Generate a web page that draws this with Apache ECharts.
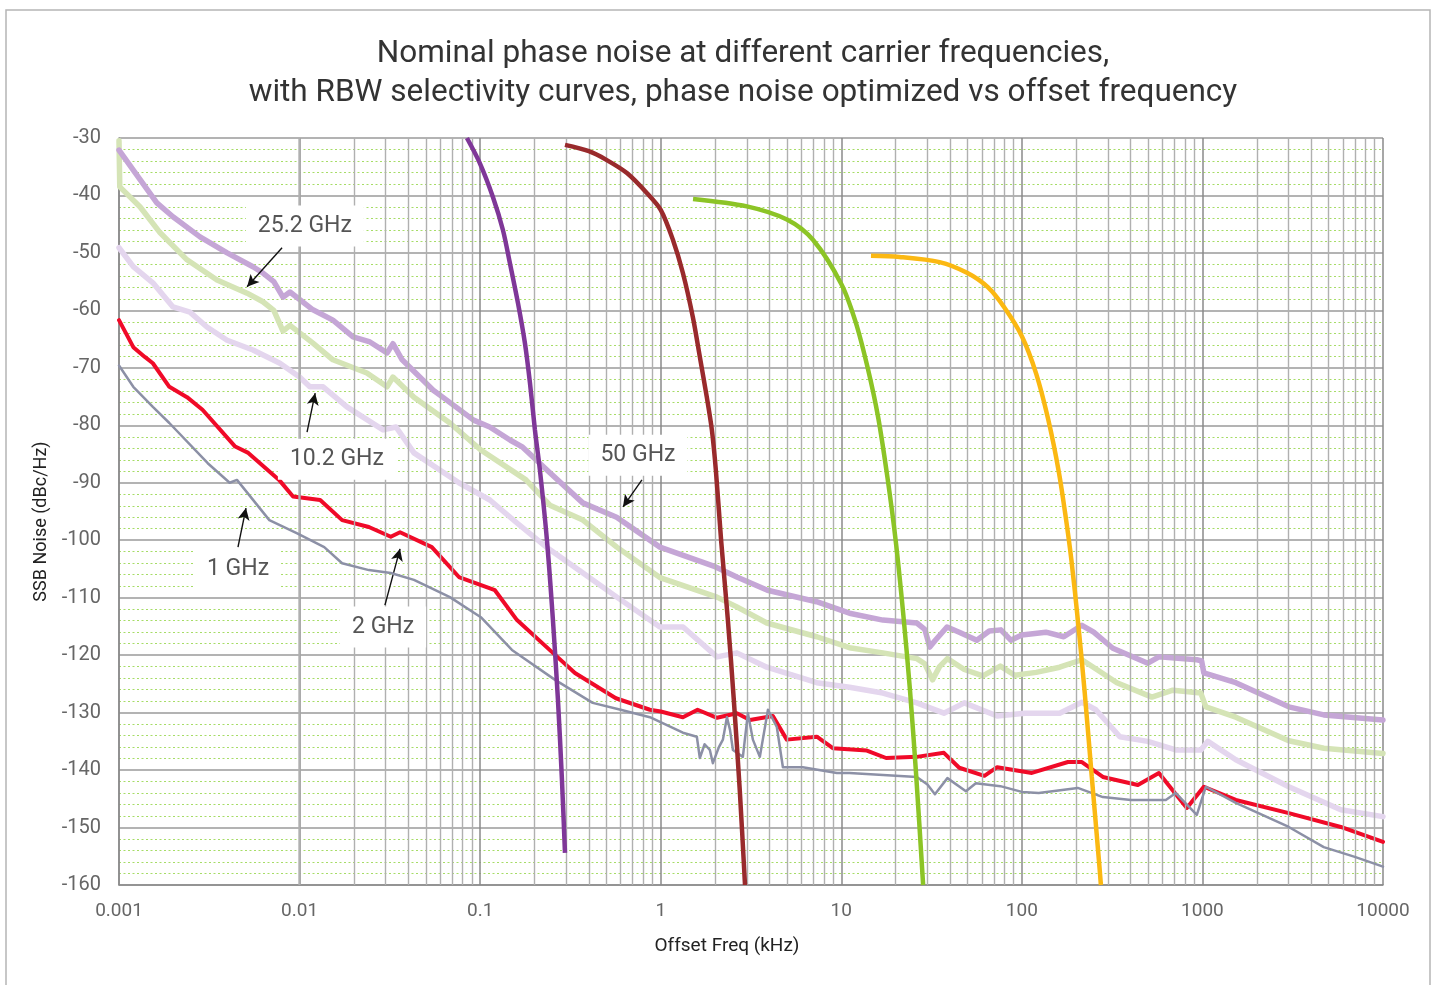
<!DOCTYPE html>
<html>
<head>
<meta charset="utf-8">
<script src="https://cdn.jsdelivr.net/npm/echarts@6/dist/echarts.min.js"></script>
<style>
html,body{margin:0;padding:0;background:#fff;}
#c{width:1435px;height:985px;}
</style>
</head>
<body>
<div id="c"></div>
<script>
// ---------- tick labels / grid values ----------
const decadeLabels = ['0.001','0.01','0.1','1','10','100','1000','10000'];
const gridDecades = [0.001,0.01,0.1,1,10,100,1000];
const gridMultipliers = [2,3,4,5,6,7,8,9];

// ---------- phase-noise traces: [offset kHz, dBc/Hz] ----------
const noise50GHz = [[0.001,-32.1],[0.0012,-35.6],[0.00162,-41.3],[0.00199,-43.7],[0.00281,-47.2],[0.00397,-50.0],[0.00552,-52.4],[0.00627,-53.5],[0.0072,-55],[0.00809,-57.7],[0.00885,-56.8],[0.01186,-59.9],[0.0153,-61.7],[0.01977,-64.6],[0.02453,-65.5],[0.0305,-67.4],[0.0329,-65.8],[0.037,-68.6],[0.055,-73.9],[0.062,-75.1],[0.092,-79.1],[0.113,-80.3],[0.147,-82.6],[0.172,-83.8],[0.24,-88.1],[0.37,-93.5],[0.57,-96.0],[0.99,-101.2],[2.0,-104.6],[2.64,-106.4],[3.9,-108.7],[7.3,-110.7],[11.1,-112.7],[17,-113.9],[26.2,-114.4],[29,-115.5],[30.9,-118.6],[33,-117.5],[38.5,-115.1],[45,-116],[56.3,-117.4],[66,-115.8],[76.5,-115.6],[86.9,-117.4],[100,-116.5],[135.8,-116.0],[170.7,-116.8],[214.9,-114.8],[250,-116],[319,-118.8],[498.5,-121.4],[574,-120.3],[931,-120.8],[990,-121],[1018,-123.1],[1531,-124.8],[3008,-129.0],[4699,-130.4],[10000,-131.3]];
const noise25GHz = [[0.001,-30.5],[0.00101,-38.5],[0.00131,-42.0],[0.00169,-46.5],[0.00238,-51.2],[0.00349,-54.7],[0.00512,-57.0],[0.00627,-58.5],[0.0072,-60],[0.00809,-63.6],[0.00885,-62.6],[0.01186,-65.7],[0.0153,-68.6],[0.0236,-70.9],[0.0305,-73.3],[0.0329,-71.6],[0.043,-75.1],[0.068,-79.6],[0.1009,-84.3],[0.1794,-89.5],[0.2433,-93.9],[0.3707,-96.5],[0.5715,-101.2],[0.99,-106.5],[2.05,-109.9],[2.64,-111.6],[3.87,-114.4],[7.32,-116.8],[11.1,-118.7],[17,-119.6],[26.2,-120.6],[29,-121.5],[32,-124.3],[35,-122],[38.7,-120.6],[48,-122.5],[60.8,-123.6],[76,-121.9],[91.4,-123.5],[120,-123],[162,-122.1],[215,-120.8],[260,-122.5],[336,-124.8],[525,-127.3],[686,-126.1],[980,-126.6],[1045,-129.0],[1531,-130.8],[3008,-134.9],[4699,-136.2],[10000,-137.1]];
const noise10GHz = [[0.001,-49.1],[0.0012,-52.4],[0.00154,-55.2],[0.00199,-59.4],[0.00247,-60.3],[0.00307,-62.9],[0.00397,-65.2],[0.00552,-66.9],[0.00778,-69.2],[0.01,-71.6],[0.0114,-73.3],[0.0135,-73.3],[0.0183,-76.8],[0.029,-80.8],[0.0342,-80.3],[0.043,-84.8],[0.0763,-90.0],[0.1132,-93.0],[0.16,-97.0],[0.2373,-101.4],[0.371,-105.7],[0.5715,-109.9],[0.99,-115.1],[1.33,-115.1],[2.05,-120.3],[2.64,-119.6],[3.87,-122.1],[7.32,-124.8],[11.1,-125.6],[17,-126.6],[26.2,-128.3],[37,-130.1],[48,-128.3],[73,-130.6],[104,-130.1],[162,-130.1],[215,-128.2],[257,-129.5],[349,-134.2],[498,-135.0],[712,-136.5],[980,-136.5],[1072,-135.0],[1531,-138.2],[3008,-142.9],[5838,-146.9],[10000,-148.1]];
const noise2GHz = [[0.001,-61.7],[0.0012,-66.4],[0.00139,-68.1],[0.00154,-69.2],[0.0019,-73.3],[0.00238,-75.1],[0.0029,-77.3],[0.0044,-83.7],[0.0052,-84.8],[0.0077,-89.5],[0.0092,-92.4],[0.013,-93.0],[0.0172,-96.5],[0.0242,-97.7],[0.032,-99.4],[0.036,-98.6],[0.054,-101.2],[0.0763,-106.4],[0.1207,-108.7],[0.16,-113.9],[0.2529,-119.6],[0.335,-123.1],[0.5646,-127.5],[0.871,-129.5],[1.0,-129.8],[1.327,-130.8],[1.6,-129.5],[2.05,-130.9],[2.64,-130.1],[3.12,-131.3],[4.18,-130.6],[4.99,-134.7],[7.32,-134.2],[8.98,-136.2],[13.86,-136.6],[17.7,-137.9],[26.2,-137.7],[37,-137.0],[45,-139.6],[62,-141.0],[73,-139.5],[113.6,-140.5],[180,-138.6],[215,-138.6],[281,-141.2],[439,-142.6],[574,-140.5],[820,-146.6],[1018,-142.9],[1531,-145.2],[3008,-147.5],[5838,-149.9],[10000,-152.5]];
const noise1GHz = [[0.001,-69.6],[0.0012,-73.3],[0.00154,-76.8],[0.0019,-79.6],[0.0031,-86.6],[0.0041,-90.0],[0.0045,-89.5],[0.0068,-96.5],[0.0097,-98.8],[0.0137,-101.2],[0.0172,-104.0],[0.0242,-105.2],[0.032,-105.7],[0.043,-106.9],[0.068,-109.9],[0.1009,-113.4],[0.15,-119.1],[0.26,-124.3],[0.42,-128.3],[0.6,-129.5],[0.871,-130.8],[1.327,-133.5],[1.585,-134.2],[1.647,-137.9],[1.75,-135.5],[1.871,-136.5],[1.945,-138.8],[2.1,-136],[2.21,-134.7],[2.327,-130.8],[2.42,-133],[2.512,-136.5],[2.851,-137.7],[3.04,-130.1],[3.239,-134.7],[3.54,-137.7],[3.925,-129.5],[4.395,-132.5],[4.75,-139.5],[6.12,-139.5],[9.45,-140.5],[11.1,-140.5],[26.2,-141.2],[30,-142.5],[33,-144.2],[38.7,-141.4],[49,-143.7],[55.6,-142.3],[76,-142.8],[100,-143.8],[124,-144.0],[204,-143.1],[281,-144.7],[402,-145.2],[627,-145.2],[712,-144.0],[931,-147.8],[1045,-142.9],[1531,-145.7],[3008,-149.9],[4699,-153.4],[6982,-155.1],[10000,-156.8]];

// ---------- RBW selectivity curves ----------
const rbwPurple = [[0.0845,-30],[0.0997,-34.4],[0.1178,-40.3],[0.1337,-46],[0.1462,-51.8],[0.1619,-58.7],[0.177,-65.7],[0.1887,-72.6],[0.2011,-80.8],[0.2143,-87.8],[0.2344,-100],[0.253,-113.9],[0.2697,-127.8],[0.2838,-141.7],[0.295,-154.4]];
const rbwDarkRed = [[0.295,-31.2],[0.4,-32.3],[0.5,-33.8],[0.65,-36.1],[0.84,-39.6],[1.0,-42.5],[1.168,-47.7],[1.327,-53.5],[1.507,-61.2],[1.647,-68.1],[1.8,-75.1],[1.92,-80.8],[2.02,-87.8],[2.16,-100],[2.355,-113.9],[2.54,-127.8],[2.74,-143.5],[2.93,-160]];
const rbwGreen = [[1.51,-40.6],[3,-41.9],[5,-44.2],[7,-47.8],[10,-55.4],[12,-62],[14,-70],[16,-78.6],[18,-89],[20,-100],[22,-112.6],[24,-126],[26,-141],[28.4,-160]];
const rbwOrange = [[14.6,-50.5],[21,-50.7],[35,-51.6],[50,-53.5],[65,-56],[80,-59.5],[100,-64.5],[120,-71],[140,-79],[160,-88],[175,-96],[188,-103.4],[205,-114.4],[223,-126.6],[244,-141.2],[267,-155.6],[274,-160]];

// ---------- annotations ----------
const annoText = ['25.2 GHz','10.2 GHz','50 GHz','1 GHz','2 GHz'];
const annoAt = [[0.0107,-45.3],[0.0161,-85.9],[0.748,-85.2],[0.00456,-105],[0.029,-115.1]];
const arrowFrom = [[0.008,-49.1],[0.011,-81.2],[0.787,-89.5],[0.00456,-101.2],[0.0297,-111.3]];
const arrowTo = [[0.00512,-55.9],[0.0122,-74.4],[0.618,-94.2],[0.00505,-94.4],[0.036,-101.5]];

const FONT = 'Roboto, "Noto Sans", sans-serif';

const minorGrid = [];
gridDecades.forEach(d => gridMultipliers.forEach(m => minorGrid.push({xAxis: +(m*d).toPrecision(3)})));

function trace(name, data, color, width, z){
  return {name, type:'line', data, showSymbol:false, symbol:'none', z: z,
    lineStyle:{color, width, join:'round', cap:'round'}, emphasis:{disabled:true}, silent:true, animation:false};
}
function rbw(name, data, color){
  return {name, type:'line', data, showSymbol:false, symbol:'none', smooth:0.3, z:6,
    lineStyle:{color, width:4.5, cap:'butt'}, emphasis:{disabled:true}, silent:true, animation:false};
}

const chart = echarts.init(document.getElementById('c'), null, {renderer:'canvas'});
const option = {
  animation:false,
  backgroundColor:'#fff',
  title:{
    text:'Nominal phase noise at different carrier frequencies,\nwith RBW selectivity curves, phase noise optimized vs offset frequency',
    left:738, top:30, textAlign:'center',
    textStyle:{fontFamily:FONT, fontSize:31.5, fontWeight:'normal', color:'#333', lineHeight:39}
  },
  graphic:[{type:'rect', shape:{x:6,y:10,width:1424,height:1000}, style:{fill:'none', stroke:'#b5b5b5', lineWidth:1.5}, silent:true, z:-10}],
  grid:{left:119, right:52, top:138, bottom:100, containLabel:false},
  xAxis:{
    type:'log', logBase:10, min:0.001, max:10000,
    name:'Offset Freq (kHz)', nameLocation:'middle', nameGap:52,
    nameTextStyle:{fontFamily:FONT, fontSize:19, color:'#222', padding:[0,48,0,0]},
    axisLine:{show:true, lineStyle:{color:'#8a8a8a', width:1.5}},
    axisTick:{show:false},
    axisLabel:{margin:17, fontFamily:FONT, fontSize:19, color:'#666',
      formatter:v => decadeLabels[Math.round(Math.log10(v))+3]},
    splitLine:{show:true, lineStyle:{color:'#8a8a8a', width:1.5}},
    minorTick:{show:false}, minorSplitLine:{show:false}
  },
  yAxis:{
    type:'value', min:-160, max:-30, interval:10,
    name:'SSB Noise (dBc/Hz)', nameLocation:'middle', nameGap:64,
    nameTextStyle:{fontFamily:FONT, fontSize:18, color:'#222', padding:[0,20,0,0]},
    axisLine:{show:true, lineStyle:{color:'#8a8a8a', width:1.5}},
    axisTick:{show:false},
    axisLabel:{margin:18, fontFamily:FONT, fontSize:20, color:'#666'},
    splitLine:{show:true, lineStyle:{color:'#9a9a9a', width:1.5}},
    minorTick:{show:false, splitNumber:5},
    minorSplitLine:{show:true, lineStyle:{color:'#a6dc66', width:1, type:[2,2.5]}}
  },
  series:[
    {name:'grid', type:'line', data:[], z:1, silent:true,
      markLine:{silent:true, symbol:['none','none'], label:{show:false}, animation:false,
        lineStyle:{color:'#b0b0b0', width:1.4, type:'solid'}, emphasis:{disabled:true},
        data:minorGrid}},
    trace('10.2 GHz', noise10GHz, '#e4d6ee', 5.5, 3),
    trace('25.2 GHz', noise25GHz, '#d5e4b6', 5.5, 3),
    trace('50 GHz', noise50GHz, '#c5a6d6', 5.5, 3),
    trace('2 GHz', noise2GHz, '#f00a28', 4, 4),
    trace('1 GHz', noise1GHz, '#8c90a6', 2.5, 5),
    rbw('RBW 1', rbwPurple, '#7f3798'),
    rbw('RBW 2', rbwDarkRed, '#992a2c'),
    rbw('RBW 3', rbwGreen, '#8cc426'),
    rbw('RBW 4', rbwOrange, '#fbb812'),
    {name:'annotations', type:'line', data:[], z:10, silent:true,
      markLine:{silent:true, symbol:['none','arrow'], symbolSize:[9,12], animation:false,
        label:{show:false}, lineStyle:{color:'#111', width:1.4, type:'solid'}, emphasis:{disabled:true},
        data: arrowFrom.map((p,i)=>[{coord:p},{coord:arrowTo[i]}])},
      markPoint:{silent:true, symbol:'rect', symbolSize:1, animation:false,
        itemStyle:{color:'rgba(0,0,0,0)'},
        label:{show:true, position:'inside', fontFamily:FONT, fontSize:23, color:'#555',
          backgroundColor:'#fff', padding:[9,12], formatter:p=>p.name},
        data: annoText.map((t,i)=>({name:t, coord:annoAt[i]}))}
    }
  ]
};
chart.setOption(option);
</script>
</body>
</html>
